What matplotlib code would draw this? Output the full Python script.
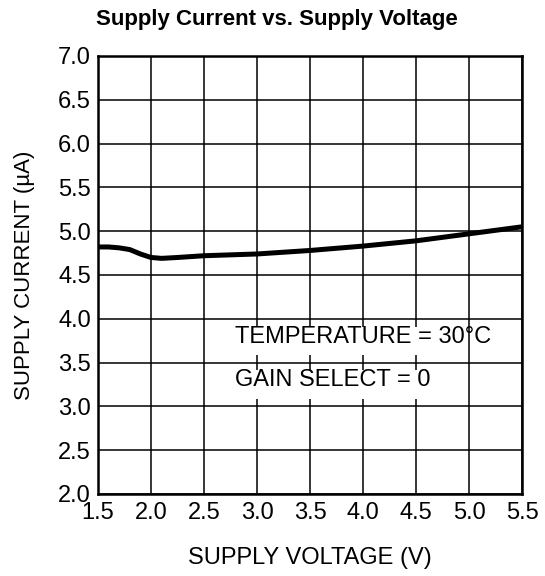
import matplotlib
matplotlib.use("Agg")
import matplotlib.pyplot as plt
from matplotlib.patches import Rectangle

plt.rcParams['font.family'] = ['Liberation Sans', 'DejaVu Sans']

voltage = [1.5, 1.6, 1.7, 1.8, 1.9, 2.0, 2.1, 2.25, 2.5, 3.0, 3.5, 4.0, 4.5, 5.0, 5.5]
current = [4.82, 4.82, 4.81, 4.79, 4.74, 4.70, 4.69, 4.70, 4.72, 4.74, 4.78, 4.83, 4.89, 4.97, 5.05]

x_ticks = [1.5, 2.0, 2.5, 3.0, 3.5, 4.0, 4.5, 5.0, 5.5]
y_ticks = [2.0, 2.5, 3.0, 3.5, 4.0, 4.5, 5.0, 5.5, 6.0, 6.5, 7.0]

title = "Supply Current vs. Supply Voltage"
xlabel = "SUPPLY VOLTAGE (V)"
ylabel = "SUPPLY CURRENT (\u00b5A)"
notes = ["TEMPERATURE = 30\u00b0C", "GAIN SELECT = 0"]

fig = plt.figure(figsize=(5.45, 5.76), dpi=100)
ax = fig.add_axes([98/545, 1-494/576, 424/545, 438/576])

ax.plot(voltage, current, color='black', lw=3.6, solid_capstyle='butt', zorder=4)

ax.set_xlim(1.5, 5.5)
ax.set_ylim(2.0, 7.0)
ax.set_xticks(x_ticks)
ax.set_yticks(y_ticks)
ax.set_xticklabels([f"{v:.1f}" for v in x_ticks], fontsize=17)
ax.set_yticklabels([f"{v:.1f}" for v in y_ticks], fontsize=17)
ax.tick_params(axis='both', length=0)
ax.tick_params(axis='x', pad=6)
ax.tick_params(axis='y', pad=5)
ax.grid(True, color='black', lw=1.1)
ax.set_axisbelow(True)
for s in ax.spines.values():
    s.set_linewidth(1.8)
    s.set_zorder(5)

# white boxes behind annotation text
for (y0, y1) in [(3.59, 3.91), (3.09, 3.41)]:
    ax.add_patch(Rectangle((2.75, y0), 2.1, y1 - y0, facecolor='white',
                           edgecolor='none', zorder=2))

ax.text(2.79, 3.79, notes[0], fontsize=17, va='center', ha='left', zorder=3)
ax.text(2.79, 3.30, notes[1], fontsize=17, va='center', ha='left', zorder=3)

ax.set_xlabel(xlabel, fontsize=17, va='center')
ax.xaxis.set_label_coords(0.5, (494 - 558) / 438)
ax.set_ylabel(ylabel, fontsize=16, va='center')
ax.yaxis.set_label_coords((24.5 - 98) / 424, 0.5)
fig.text(277/545, 1-20/576, title, fontsize=16, fontweight='bold', ha='center', va='center')

fig.savefig("out.png", dpi=100)
